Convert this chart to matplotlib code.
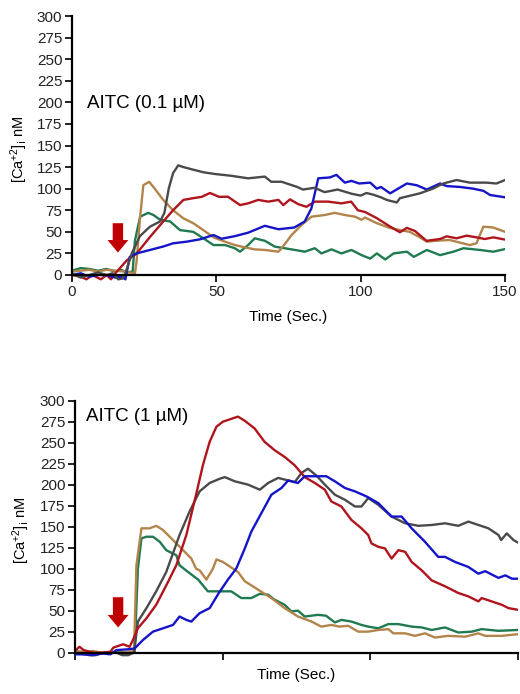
import matplotlib
matplotlib.use("Agg")
import matplotlib.pyplot as plt

# colours of the five cells
GRAY = "#4a4a4a"
RED = "#b0141c"
BLUE = "#1414c8"
GREEN = "#1f7a50"
BROWN = "#b3844a"
ARROW = "#c00000"

# ---- top panel: AITC 0.1 uM ----
top_gray_t = [0, 3, 6, 9, 12, 14, 16, 17.5, 18.5, 20.7, 23.5, 27, 30.5, 32, 33.5, 35, 36.8, 38.6, 42, 45.5,
              49.5, 55, 61, 66.8, 69, 72.6, 78, 80, 84, 87.5, 92, 97, 100, 102, 104.4, 107, 109, 112.5, 113.6,
              120.5, 125, 128.6, 133.2, 137.8, 143.6, 147, 150]
top_gray_v = [2, -3, 0, 3, 0, 2, -5, -4, 2, 25, 45, 56, 62, 72, 100, 118, 127, 125, 122, 119,
              117, 115, 112, 114, 108, 108, 102, 99, 101, 96, 99, 94, 92, 95, 93, 90, 87, 84, 89,
              94.6, 100, 106, 110, 107, 107, 106, 110]

top_red_t = [0, 3, 5, 7, 10, 12, 13.5, 15, 16.6, 19, 22.4, 27, 31.6, 35, 38.6, 42, 44.9, 47.8, 51, 54,
             58.2, 61, 64.5, 68, 71.5, 73.2, 75.5, 78.4, 81.2, 84.1, 88.7, 93.3, 96.7, 99, 101.5, 105.5,
             110, 113.6, 116, 118.8, 122.8, 127.5, 129.8, 133.2, 136.7, 140.1, 143, 146, 150]
top_red_v = [0, -2, -5, 0, -5, 0, -5, 2, 8, 17, 25, 44, 62, 75, 87, 89, 90.5, 95, 90.5, 90.7,
             81, 83, 87, 85, 87, 81, 87.6, 82, 79, 85, 85, 83, 85, 75, 73, 66,
             56.5, 49.5, 54.6, 51, 39.6, 41.7, 44.8, 42.5, 45.6, 43.6, 41.7, 43.6, 41]

top_blue_t = [0, 3, 6, 9, 12, 15, 17, 18.5, 20, 22.4, 27, 31.6, 35, 39.7, 44.3, 49, 51.8, 56.4, 61, 66.8,
              71.5, 77, 80.6, 82.9, 85.3, 89.3, 91.6, 94.5, 96.8, 99.5, 103.3, 105.6, 107, 110.2, 116,
              119.4, 122.9, 127.5, 129.8, 134.4, 139, 142.5, 144.8, 150]
top_blue_v = [0, 2, -2, 0, 0, -3, -2, -5, 21, 25, 29, 33, 36.7, 38.6, 41.3, 46.3, 42, 45, 49, 57,
              53, 55, 62, 77, 112, 113, 116, 107, 109, 106, 107, 100, 102, 94.6, 106,
              104, 99, 106, 103, 102, 100, 97.5, 92.7, 90]

top_green_t = [0, 3, 6, 9, 12, 15, 17, 19, 21, 21.8, 23.6, 26.4, 28.2, 30.5, 34, 37.4, 42, 45.5, 49, 53,
               56.4, 58.2, 61, 63.3, 66.8, 70.3, 73.7, 77.2, 80.6, 84.1, 86.4, 89.9, 93.3, 96.8, 100.3,
               103.3, 105.6, 108.5, 111.4, 116, 118.4, 122.9, 127.5, 132.1, 135.6, 141.3, 145.9, 150]
top_green_v = [5, 8, 7, 5, 7, 4, 6, 3, 4, 40, 67.6, 72, 69.5, 64, 62, 52, 50, 42.5, 34.7, 34.7,
               31, 27, 34.7, 42.5, 39.6, 32.8, 31, 29, 27, 31, 25, 29.7, 25, 29, 23,
               19, 25, 18, 25, 27, 21, 29, 23, 27, 31, 29, 27, 30]

top_brown_t = [0, 3, 6, 9, 12, 15, 18, 20, 21.8, 22.4, 23.6, 24.7, 26.7, 28.2, 31.6, 35, 38.6, 42, 45.5,
               49, 53, 56.4, 59.9, 63.3, 66.8, 71.5, 72.6, 76, 79.5, 83, 87.6, 91, 94.5, 98, 100.3,
               101.5, 105.6, 110, 113.6, 117, 120.5, 122.9, 127.5, 130.9, 134.4, 137.8, 140.1, 142.5,
               145.9, 150]
top_brown_v = [4, 5, 6, 4, 6, 5, 4, 3, 2, 17, 67.6, 104, 108, 102, 87, 75, 65.6, 60, 52,
               43.6, 38.6, 34.7, 32, 29.7, 29, 27, 31, 46, 58, 67.6, 69.5, 72, 69.5, 67.6, 64,
               66.6, 60, 54.6, 52, 50, 43.6, 38.6, 40, 40.5, 37.5, 34.7, 36.7, 56,
               55, 50]

# ---- bottom panel: AITC 1 uM ----
bot_red_t = [0, 1.5, 3, 6, 9, 12, 13, 16.3, 18.5, 19.6, 21.3, 24.2, 27.5, 30.9, 34.3, 37.7, 41, 43.3,
             45.6, 47.9, 50.1, 51.8, 55.2, 57.5, 60.8, 64.2, 67.6, 71, 74.4, 77.8, 81.2, 84.6, 86.8,
             90.2, 93.6, 97, 99.3, 100.4, 102.7, 105, 107.2, 109.5, 111.8, 114, 117.4, 120.8, 125.3,
             129.8, 133.2, 136.6, 137.7, 141.1, 144.5, 146.8, 150]
bot_red_v = [2, 7, 3, 0, 0, 1, 6, 10, 7, 15, 29, 41, 57, 80, 104, 140, 188, 223,
             251, 269, 275, 277, 281, 276, 267, 251, 241, 233, 223, 209, 202, 194, 180,
             174, 158, 148, 140, 130, 126, 124, 112, 122, 120, 108, 98, 86, 79,
             71, 67, 61, 65, 61, 57, 53, 51]

bot_gray_t = [0, 3, 5, 7, 10, 14, 16, 18, 20, 21.3, 24.2, 27.5, 30.9, 35.4, 38.8, 42.2, 45.6, 49, 50.7,
              54.1, 58.6, 62.6, 65.4, 68.8, 72.2, 74.4, 76.7, 78.9, 81.7, 84.6, 88, 91.4, 94.8, 97,
              99.3, 102.7, 107.2, 111.8, 116.3, 120.8, 125.3, 129.8, 133.2, 136.6, 140, 143.4, 144.3,
              146.2, 148.5, 150]
bot_gray_v = [0, -2, -3, -3, 0, 0, -3, -3, 0, 37, 53, 73, 96, 140, 168, 192, 202, 207, 209,
              204, 200, 194, 202, 208, 205, 203, 214, 219, 211, 200, 188, 182, 174, 174,
              184, 176, 162, 154, 151, 152, 154, 151, 156, 152, 148, 140, 134,
              142, 134, 131]

bot_blue_t = [0, 3, 6, 9, 12, 14, 18, 20.2, 23, 26.4, 29.8, 33.2, 35.4, 37.7, 39.4, 42.2, 45.6, 48.7,
              51.8, 54.6, 57.5, 59.7, 63.1, 66.5, 69.9, 72.2, 75.5, 77.8, 81.2, 85.1, 88, 91.4, 94.8,
              98.7, 102.7, 107.2, 110.6, 114, 118.5, 123, 125.3, 128.7, 133.2, 136.6, 138.9, 143.4,
              145.7, 148, 150]
bot_blue_v = [-2, -2, -3, -1, -2, 3, 4, 5, 15, 25, 29, 33, 43, 39, 37, 47, 53, 71,
              87, 100, 124, 144, 166, 188, 196, 205, 202, 210, 210, 210, 204, 196, 192,
              186, 178, 162, 162, 148, 132, 114, 114, 108, 102, 94, 97, 89,
              92, 88, 88]

bot_green_t = [0, 3, 6, 9, 12, 15, 18, 20.2, 21.3, 22.5, 24.2, 26.4, 28.7, 30.9, 34.3, 35.4, 38.3, 41.7,
               45, 47.9, 52.9, 56.3, 59.7, 62.6, 65.4, 67.6, 71, 73.3, 75.5, 77.8, 82.3, 85, 88, 90.2,
               93.6, 97, 99.3, 102.7, 106.1, 109.5, 114, 117.4, 120.8, 125.3, 129.8, 134.4, 137.7,
               143.4, 150]
bot_green_v = [0, 1, 0, -1, 0, 1, 0, 1, 100, 136, 138, 138, 132, 122, 116, 104, 96, 87,
               73, 73, 73, 65, 65, 70, 69, 63, 57, 49, 50, 43, 45, 44, 36, 39,
               37, 33, 31, 29, 34, 34, 31, 30, 27, 30, 24, 25, 28,
               26, 27]

bot_brown_t = [0, 3, 6, 9, 12, 15, 18, 20, 20.8, 22.5, 25.3, 27.5, 29.8, 33.2, 36.6, 39.4, 41, 42.2,
               44.5, 46.7, 47.9, 50.1, 51.8, 55.2, 57.5, 62, 66.5, 71, 75.5, 80.1, 83.4, 86.8, 89.5,
               92.5, 95.9, 99.3, 102.7, 106.1, 107.8, 111.8, 115.1, 118.5, 121.9, 126.4, 132.1, 136.6,
               138.9, 144.5, 150]
bot_brown_v = [2, 1, 2, 0, 1, 0, 1, 2, 104, 148, 148, 151, 146, 134, 122, 112, 100, 98,
               87, 100, 111, 108, 104, 96, 85, 75, 65, 53, 43, 37, 31, 33, 31,
               32, 25, 25, 27, 28, 23, 23, 20, 23, 18, 20, 19, 23,
               20, 20, 22]

y_ticks = list(range(0, 301, 25))
x_ticks = [0, 50, 100, 150]


def style_axes(ax, show_xlabels):
    ax.set_xlim(0, 150)
    ax.set_ylim(-8, 300)
    ax.spines["top"].set_visible(False)
    ax.spines["right"].set_visible(False)
    ax.spines["bottom"].set_position(("data", 0))
    ax.spines["left"].set_bounds(0, 300)
    for s in ("left", "bottom"):
        ax.spines[s].set_linewidth(1.6)
    ax.set_yticks(y_ticks)
    ax.set_xticks(x_ticks)
    if not show_xlabels:
        ax.set_xticklabels([])
    ax.tick_params(direction="out", length=5, width=1.4, labelsize=11, colors="#222222", pad=2)
    ax.set_ylabel(r"[Ca$^{+2}$]$_{\rm i}$ nM", fontsize=10.5)
    ax.set_xlabel("Time (Sec.)", fontsize=11)


def main():
    plt.rcParams["font.family"] = ["Liberation Sans", "DejaVu Sans"]
    plt.rcParams["mathtext.default"] = "regular"
    fig = plt.figure(figsize=(5.2, 6.94), dpi=100)

    ax1 = fig.add_axes([0.1385, 0.5938, 0.8327, 0.3831])
    ax2 = fig.add_axes([0.1442, 0.0499, 0.8519, 0.3728])

    lw = 1.7
    ax1.plot(top_green_t, top_green_v, color=GREEN, lw=lw)
    ax1.plot(top_brown_t, top_brown_v, color=BROWN, lw=lw)
    ax1.plot(top_red_t, top_red_v, color=RED, lw=lw)
    ax1.plot(top_blue_t, top_blue_v, color=BLUE, lw=lw)
    ax1.plot(top_gray_t, top_gray_v, color=GRAY, lw=lw)

    ax2.plot(bot_green_t, bot_green_v, color=GREEN, lw=lw)
    ax2.plot(bot_brown_t, bot_brown_v, color=BROWN, lw=lw)
    ax2.plot(bot_gray_t, bot_gray_v, color=GRAY, lw=lw)
    ax2.plot(bot_red_t, bot_red_v, color=RED, lw=lw)
    ax2.plot(bot_blue_t, bot_blue_v, color=BLUE, lw=lw)

    style_axes(ax1, True)
    style_axes(ax2, False)
    ax1.yaxis.set_label_coords(-0.097, 0.5)
    ax2.yaxis.set_label_coords(-0.097, 0.5)
    ax1.xaxis.set_label_coords(0.5, -0.105)
    ax2.xaxis.set_label_coords(0.5, -0.035)

    ax1.text(5.2, 199, "AITC (0.1 µM)", fontsize=13.5, va="center", ha="left")
    ax2.text(3.7, 281, "AITC (1 µM)", fontsize=13.5, va="center", ha="left")

    # stimulus arrows
    arrow_style = "simple,head_width=1.5,head_length=0.9,tail_width=0.75"
    ax1.annotate("", xy=(15.9, 26), xytext=(15.9, 60),
                 arrowprops=dict(arrowstyle=arrow_style, color=ARROW, mutation_scale=10, lw=0,
                                 shrinkA=0, shrinkB=0))
    ax2.annotate("", xy=(14.6, 30), xytext=(14.6, 66),
                 arrowprops=dict(arrowstyle=arrow_style, color=ARROW, mutation_scale=10, lw=0,
                                 shrinkA=0, shrinkB=0))

    fig.savefig("out.png", dpi=100)


if __name__ == "__main__":
    main()
